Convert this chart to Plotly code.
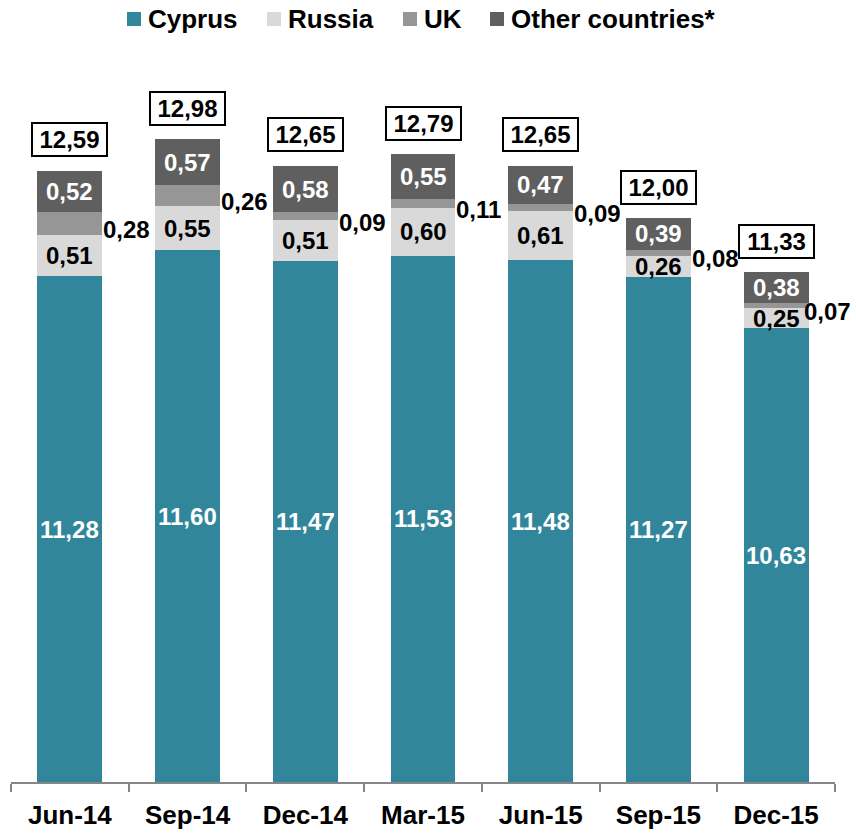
import plotly.graph_objects as go

quarters = ["Jun-14", "Sep-14", "Dec-14", "Mar-15", "Jun-15", "Sep-15", "Dec-15"]
cyprus = [11.28, 11.60, 11.47, 11.53, 11.48, 11.27, 10.63]
russia = [0.51, 0.55, 0.51, 0.60, 0.61, 0.26, 0.25]
uk = [0.28, 0.26, 0.09, 0.11, 0.09, 0.08, 0.07]
other = [0.52, 0.57, 0.58, 0.55, 0.47, 0.39, 0.38]

COLORS = {"Cyprus": "#31869B", "Russia": "#D9D9D9", "UK": "#969696",
          "Other countries*": "#5F5F5F"}
FONT = "Arial, Liberation Sans, sans-serif"
Y_MIN, Y_MAX = 5, 14
BAR_W = 0.55

W, H = 856, 836
M = dict(l=11, r=21, t=57, b=54)
PW = W - M["l"] - M["r"]
PH = H - M["t"] - M["b"]


def px_x(px):
    return (px - M["l"]) / PW


def px_y(py):
    return (H - M["b"] - py) / PH


def fmt(v):
    return f"{v:.2f}".replace(".", ",")


series = [("Cyprus", cyprus), ("Russia", russia), ("UK", uk),
          ("Other countries*", other)]

fig = go.Figure()
for name, vals in series:
    fig.add_trace(go.Bar(
        x=quarters, y=vals, name=name, width=BAR_W,
        marker=dict(color=COLORS[name], line=dict(width=0)),
        hoverinfo="skip", showlegend=False,
    ))

LBL = 24
annotations = []
shapes = []
for i, q in enumerate(quarters):
    c, r, u, o = cyprus[i], russia[i], uk[i], other[i]
    total = round(c + r + u + o, 2)
    annotations.append(dict(x=q, y=(Y_MIN + c) / 2, text=fmt(c), showarrow=False,
                            font=dict(color="white", size=LBL, family=FONT, weight="bold")))
    annotations.append(dict(x=q, y=c + r / 2, text=fmt(r), showarrow=False,
                            font=dict(color="black", size=LBL, family=FONT, weight="bold")))
    annotations.append(dict(x=i + BAR_W / 2, y=c + r + u / 2, text=fmt(u), showarrow=False,
                            xanchor="left", yshift=-6,
                            xshift=(-7 if i == len(quarters) - 1 else -1),
                            font=dict(color="black", size=LBL, family=FONT, weight="bold")))
    annotations.append(dict(x=q, y=c + r + u + o / 2, text=fmt(o), showarrow=False,
                            font=dict(color="white", size=LBL, family=FONT, weight="bold")))
    annotations.append(dict(x=q, y=total, text=fmt(total), showarrow=False,
                            yanchor="middle", yshift=31,
                            width=69, height=27, borderpad=2,
                            bordercolor="black", borderwidth=2, bgcolor="white",
                            font=dict(color="black", size=LBL, family=FONT, weight="bold")))

# Legend row drawn as swatches + labels
legend_items = [("Cyprus", 127), ("Russia", 267), ("UK", 403), ("Other countries*", 490)]
for name, x0 in legend_items:
    shapes.append(dict(type="rect", xref="paper", yref="paper",
                       x0=px_x(x0), x1=px_x(x0 + 14), y0=px_y(26), y1=px_y(12),
                       fillcolor=COLORS[name], line=dict(width=0)))
    annotations.append(dict(xref="paper", yref="paper", x=px_x(x0 + 19), y=px_y(19),
                            xanchor="left", yanchor="middle", text=name, showarrow=False,
                            font=dict(color="black", size=26, family=FONT, weight="bold")))

fig.update_layout(
    barmode="stack",
    width=W, height=H,
    margin=M,
    paper_bgcolor="white", plot_bgcolor="white",
    font=dict(family=FONT, color="black"),
    annotations=annotations,
    shapes=shapes,
    xaxis=dict(range=[-0.5, 6.5], showline=True, linecolor="#868686", linewidth=1.5,
               ticks="outside", tickson="boundaries", ticklen=8, tickcolor="#868686",
               tickwidth=1.5, showgrid=False, zeroline=False, ticklabelstandoff=9,
               automargin=False,
               tickfont=dict(size=26, family=FONT, weight="bold", color="black")),
    yaxis=dict(range=[Y_MIN, Y_MAX], visible=False, showgrid=False, zeroline=False),
)

fig.write_html("out.html")
